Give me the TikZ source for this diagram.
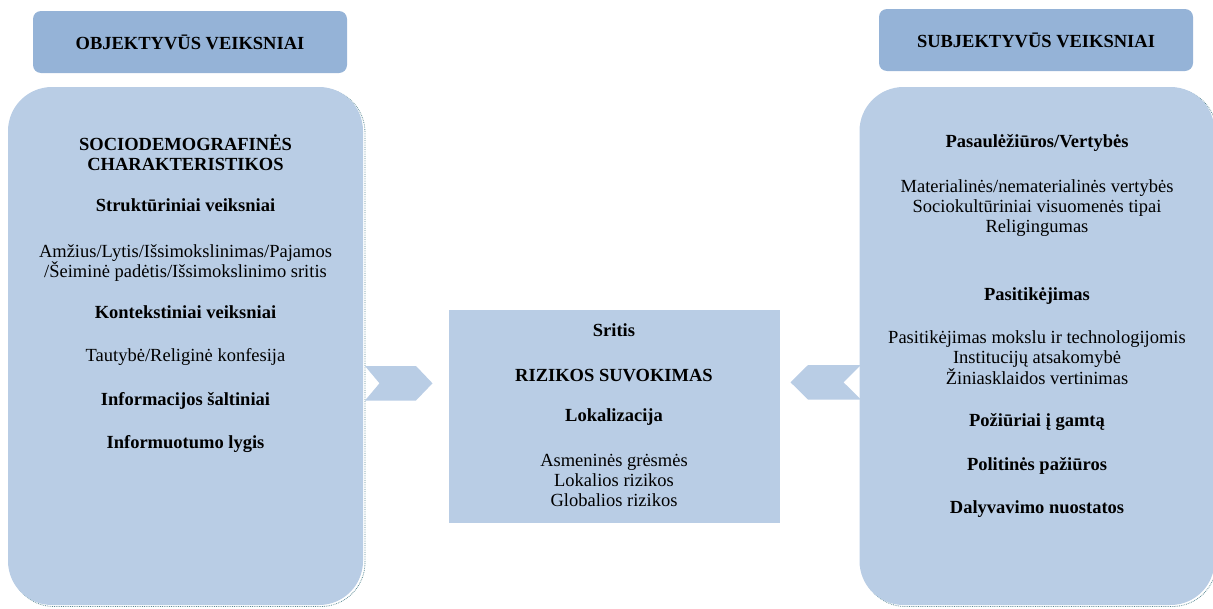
\documentclass[tikz,border=0pt]{standalone}
\usepackage{fontspec}
\setmainfont{Liberation Serif}
\definecolor{headblue}{HTML}{95B3D7}
\definecolor{boxblue}{HTML}{B9CDE5}
\definecolor{shadowteal}{HTML}{5E8C96}
\begin{document}
\begin{tikzpicture}
[x=1pt,y=-1pt,
  headbox/.style={fill=headblue,rounded corners=8pt,inner sep=0pt},%
  bigbox/.style={fill=boxblue,rounded corners=44pt,inner sep=0pt,
    minimum width=355pt,minimum height=518pt},%
  boxshadow/.style={bigbox,fill=none,draw=shadowteal,densely dotted,line width=0.8pt},%
  midbox/.style={fill=boxblue,inner sep=0pt,minimum width=331pt,minimum height=213pt},%
  boldline/.style={font=\fontsize{18.5}{20}\selectfont\bfseries,anchor=base,inner sep=0pt},%
  plainline/.style={font=\fontsize{18.5}{20}\selectfont,anchor=base,inner sep=0pt},%
  chevron/.style={fill=boxblue}]
\useasboundingbox (0,0) rectangle (1213,608);
%% header boxes
\node (objhead) at (190,42) [headbox,minimum width=314pt,minimum height=62pt] {};
\node (subjhead) at (1036,40) [headbox,minimum width=314pt,minimum height=62pt] {};
\node (objtitle) at (190,49) [boldline] {OBJEKTYVŪS VEIKSNIAI};
\node (subjtitle) at (1036,47) [boldline] {SUBJEKTYVŪS VEIKSNIAI};
%% big boxes with shadows
\node (objshadow) at (187.5,347.5) [boxshadow] {};
\node (subjshadow) at (1039,347.5) [boxshadow] {};
\node (objbox) at (185.5,346) [bigbox] {};
\node (subjbox) at (1037,346) [bigbox] {};
\node (midbox) at (614,416.5) [midbox] {};
%% chevrons
\fill[chevron] (365,366) -- (416,366) -- (432.5,383.3) -- (416,400.5)
  -- (365,400.5) -- (379.5,383.3) -- cycle;
\fill[chevron] (861,365) -- (808,365) -- (790.5,382.3) -- (808,399.5)
  -- (861,399.5) -- (843.5,382.3) -- cycle;
%% left box texts
\node (soc1) at (185.5,150.5) [boldline] {SOCIODEMOGRAFINĖS};
\node (soc2) at (185.5,170.5) [boldline] {CHARAKTERISTIKOS};
\node (strukt) at (185.5,211.5) [boldline] {Struktūriniai veiksniai};
\node (amz1) at (185.5,257.5) [plainline] {Amžius/Lytis/Išsimokslinimas/Pajamos};
\node (amz2) at (185.5,277) [plainline] {/Šeiminė padėtis/Išsimokslinimo sritis};
\node (kont) at (185.5,318) [boldline] {Kontekstiniai veiksniai};
\node (taut) at (185.5,361.5) [plainline] {Tautybė/Religinė konfesija};
\node (infsalt) at (185.5,405) [boldline] {Informacijos šaltiniai};
\node (inflyg) at (185.5,448.5) [boldline] {Informuotumo lygis};
%% centre box texts
\node (sritis) at (614,336) [boldline] {Sritis};
\node (rizika) at (614,381) [boldline] {RIZIKOS SUVOKIMAS};
\node (lokal) at (614,421.5) [boldline] {Lokalizacija};
\node (asmen) at (614,466.5) [plainline] {Asmeninės grėsmės};
\node (lokriz) at (614,486.5) [plainline] {Lokalios rizikos};
\node (globriz) at (614,506.5) [plainline] {Globalios rizikos};
%% right box texts
\node (pasaul) at (1037,147) [boldline] {Pasaulėžiūros/Vertybės};
\node (mater) at (1037,192) [plainline] {Materialinės/nematerialinės vertybės};
\node (sociok) at (1037,212) [plainline] {Sociokultūriniai visuomenės tipai};
\node (relig) at (1037,232) [plainline] {Religingumas};
\node (pasit) at (1037,300) [boldline] {Pasitikėjimas};
\node (mokslu) at (1037,343) [plainline] {Pasitikėjimas mokslu ir technologijomis};
\node (instit) at (1037,363) [plainline] {Institucijų atsakomybė};
\node (ziniask) at (1037,384) [plainline] {Žiniasklaidos vertinimas};
\node (pozi) at (1037,426) [boldline] {Požiūriai į gamtą};
\node (polit) at (1037,470) [boldline] {Politinės pažiūros};
\node (dalyv) at (1037,513) [boldline] {Dalyvavimo nuostatos};
\end{tikzpicture}
\end{document}
